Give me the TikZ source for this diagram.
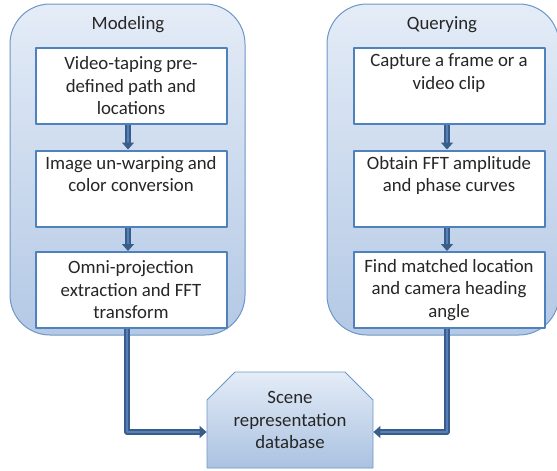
\documentclass[tikz,border=0pt]{standalone}
\usepackage{fontspec}
\setmainfont{Carlito}
\usetikzlibrary{arrows.meta,shapes.misc}
\definecolor{laneline}{RGB}{110,150,200}
\definecolor{lanetop}{RGB}{228,236,247}
\definecolor{lanebot}{RGB}{180,201,229}
\definecolor{boxline}{RGB}{79,129,189}
\definecolor{flowdark}{RGB}{56,93,138}
\definecolor{flowlight}{RGB}{88,128,184}
\begin{document}
\begin{tikzpicture}[x=1pt, y=-1pt, line join=round, >={Triangle[length=7pt,width=12pt]},
	lane/.style={draw=laneline, line width=1pt, rounded corners=40pt, top color=lanetop, bottom color=lanebot},
	txt/.style={font=\fontsize{18.8}{22.5}\selectfont, text=black!85},
	stepbox/.style={txt, draw=boxline, line width=2pt, fill=white, minimum width=191pt, minimum height=76pt, align=center, inner sep=0pt},
	dbbox/.style={txt, chamfered rectangle, chamfered rectangle corners={north west,north east}, chamfered rectangle xsep=14pt, chamfered rectangle ysep=14pt, draw=laneline, line width=.8pt, top color=lanetop, bottom color=lanebot!90!boxline, minimum width=166pt, minimum height=96pt, align=center, inner sep=0pt},
	flow/.style={->, draw=flowdark, line width=1.5pt, double=flowlight, double distance=2.5pt}
	]
	\useasboundingbox (0,0) rectangle (557,471);
	% the two lanes
	\node[lane, minimum width=235pt, minimum height=331pt] (modlane) at (127.5,169.5) {};
	\node[lane, minimum width=232pt, minimum height=331pt] (qrylane) at (443,169.5) {};
	\node[txt] (modtitle) at (128,25) {Modeling};
	\node[txt] (qrytitle) at (442,25) {Querying};
	% steps
	\node[stepbox] (m1) at (131,86) {Video-taping pre-\\defined path and\\locations};
	\node[stepbox] (m2) at (131,188.5) {Image un-warping and\\color conversion\\\strut};
	\node[stepbox] (m3) at (131,290) {Omni-projection\\extraction and FFT\\transform};
	\node[stepbox] (q1) at (449,86) {Capture a frame or a\\video clip\\\strut};
	\node[stepbox] (q2) at (449,188.5) {Obtain FFT amplitude\\and phase curves\\\strut};
	\node[stepbox] (q3) at (449,290) {Find matched location\\and camera heading\\angle};
	\node[dbbox] (db) at (290,420) {Scene\\representation\\database};
	% arrows
	\foreach \a/\b/\s in {m1/m2/-3, m2/m3/-3, q1/q2/-2, q2/q3/-2}
	\draw[flow] ([xshift=\s pt]\a.south) -- ([xshift=\s pt]\b.north);
	\draw[flow] ([xshift=-4pt]m3.south) |- ([yshift=-12pt]db.west);
	\draw[flow] ([xshift=-2pt]q3.south) |- ([yshift=-12pt]db.east);
\end{tikzpicture}
\end{document}
